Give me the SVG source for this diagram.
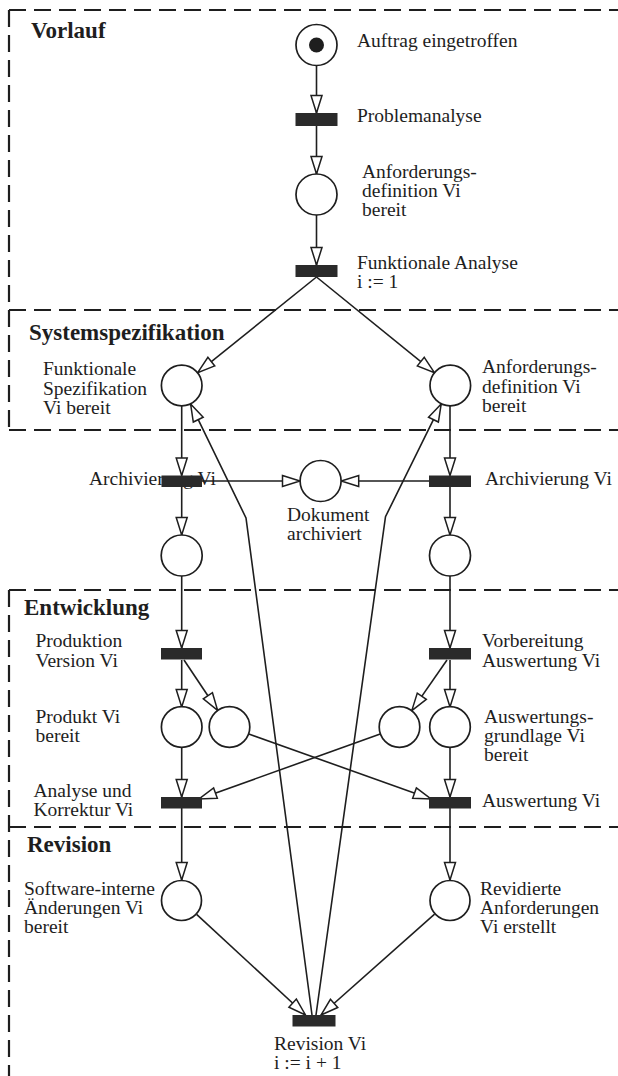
<svg xmlns="http://www.w3.org/2000/svg" width="618" height="1076" viewBox="0 0 618 1076">
<style>
text{font-family:"Liberation Serif","Times New Roman",serif;fill:#1e1e1e;font-size:19.5px}
.h{font-weight:bold;font-size:23px}
.pl{fill:#fff;stroke:#1e1e1e;stroke-width:1.7}
.tr{fill:#2a2a2a;stroke:none}
.c{fill:none;stroke:#1e1e1e;stroke-width:1.6}
.a{marker-end:url(#ah)}
.d{fill:none;stroke:#1e1e1e;stroke-width:2.2;stroke-dasharray:17 8}
</style>
<defs>
<marker id="ah" markerUnits="userSpaceOnUse" markerWidth="20" markerHeight="14" refX="18" refY="6" orient="auto" overflow="visible">
<path d="M0.5,0.5 L18,6 L0.5,11.5 z" fill="#fff" stroke="#1e1e1e" stroke-width="1.5"/>
</marker>
</defs>
<rect width="618" height="1076" fill="#fff"/>
<g id="sections">
<path class="d" d="M9,10 H618 M9,310 H618 M9,430 H618 M9,590 H618 M9,827 H618"/>
<path class="d" d="M9,10 V430 M9,590 V1076"/>
<text class="h" x="31" y="38">Vorlauf</text>
<text class="h" x="29" y="340">Systemspezifikation</text>
<text class="h" x="24" y="615">Entwicklung</text>
<text class="h" x="27" y="852">Revision</text>
</g>
<g id="connectors">
<path class="c a" d="M316.5,65.5 V113"/>
<path class="c a" d="M316.5,126 V174"/>
<path class="c a" d="M316.5,215 V265"/>
<path class="c a" d="M316.5,277 L197.7,372.6"/>
<path class="c a" d="M316.5,277 L434.4,372.6"/>
<path class="c a" d="M181.7,405.5 V475.5"/>
<path class="c a" d="M450,405.5 V475.5"/>
<path class="c a" d="M201.8,481 H300"/>
<path class="c a" d="M429,481 H341.2"/>
<path class="c a" d="M181.7,487 V535"/>
<path class="c a" d="M450,487 V535"/>
<path class="c a" d="M181.7,576 V648"/>
<path class="c a" d="M450,576 V648"/>
<path class="c a" d="M181.7,660 V707"/>
<path class="c a" d="M184,660 L217.6,710.3"/>
<path class="c a" d="M447,660 L411.8,710.6"/>
<path class="c a" d="M450,660 V707"/>
<path class="c a" d="M181.7,747.5 V797"/>
<path class="c a" d="M450,747.5 V797"/>
<path class="c a" d="M380.2,734 L199,799"/>
<path class="c a" d="M248.8,734 L431,799"/>
<path class="c a" d="M181.7,808 V880"/>
<path class="c a" d="M450,808 V880"/>
<path class="c a" d="M196.6,914.4 L305.5,1015"/>
<path class="c a" d="M434.6,914.1 L321,1015"/>
<path class="c a" d="M312,1015 L246,518 L190.6,403.9"/>
<path class="c a" d="M316,1015 L385.5,516.7 L441.2,403.9"/>
</g>
<g id="p_auftrag">
<circle class="pl" cx="316.5" cy="45" r="20.5"/>
<circle cx="316.5" cy="45" r="7.5" fill="#1e1e1e"/>
<text x="357" y="47">Auftrag eingetroffen</text>
</g>
<g id="t_problemanalyse">
<rect class="tr" x="295.5" y="113" width="42" height="13"/>
<text x="357" y="122">Problemanalyse</text>
</g>
<g id="p_anf_def">
<circle class="pl" cx="316.5" cy="194.5" r="20.5"/>
<text x="362" y="178">Anforderungs-</text>
<text x="362" y="197">definition Vi</text>
<text x="362" y="216">bereit</text>
</g>
<g id="t_funkt_analyse">
<rect class="tr" x="295.5" y="265" width="42" height="12"/>
<text x="357" y="269">Funktionale Analyse</text>
<text x="357" y="288">i := 1</text>
</g>
<g id="p_funkt_spez">
<circle class="pl" cx="181.7" cy="385.5" r="20.3"/>
<text x="43" y="375">Funktionale</text>
<text x="43" y="395">Spezifikation</text>
<text x="43" y="414">Vi bereit</text>
</g>
<g id="p_anf_def2">
<circle class="pl" cx="450.3" cy="385.5" r="20.3"/>
<text x="482" y="373">Anforderungs-</text>
<text x="482" y="393">definition Vi</text>
<text x="482" y="412">bereit</text>
</g>
<g id="t_arch_left">
<text x="89" y="485">Archivierung Vi</text>
<rect class="tr" x="161.5" y="475.5" width="40.5" height="11.5"/>
</g>
<g id="t_arch_right">
<rect class="tr" x="429" y="475.5" width="42" height="11.5"/>
<text x="485" y="485">Archivierung Vi</text>
</g>
<g id="p_dokument">
<circle class="pl" cx="320.6" cy="481" r="20.5"/>
<text x="287" y="521">Dokument</text>
<text x="287" y="540">archiviert</text>
</g>
<g id="p_left_mid">
<circle class="pl" cx="181.7" cy="555.5" r="20.5"/>
</g>
<g id="p_right_mid">
<circle class="pl" cx="450" cy="555.5" r="20.5"/>
</g>
<g id="t_produktion">
<rect class="tr" x="161" y="648" width="41" height="11.5"/>
<text x="35.5" y="647">Produktion</text>
<text x="35.5" y="667">Version Vi</text>
</g>
<g id="t_vorbereitung">
<rect class="tr" x="429" y="648" width="42" height="11.5"/>
<text x="482" y="647">Vorbereitung</text>
<text x="482" y="667">Auswertung Vi</text>
</g>
<g id="p_produkt">
<circle class="pl" cx="181.7" cy="727" r="20.3"/>
<text x="35.5" y="723">Produkt Vi</text>
<text x="35.5" y="742">bereit</text>
</g>
<g id="p_produkt2">
<circle class="pl" cx="229.5" cy="727" r="20.3"/>
</g>
<g id="p_auswert2">
<circle class="pl" cx="399.5" cy="727" r="20.3"/>
</g>
<g id="p_auswertungsgrundlage">
<circle class="pl" cx="450" cy="727" r="20.3"/>
<text x="484" y="723">Auswertungs-</text>
<text x="484" y="742">grundlage Vi</text>
<text x="484" y="761">bereit</text>
</g>
<g id="t_analyse">
<rect class="tr" x="161" y="797" width="41" height="11.5"/>
<text x="33.5" y="797">Analyse und</text>
<text x="33.5" y="816">Korrektur Vi</text>
</g>
<g id="t_auswertung">
<rect class="tr" x="429" y="797" width="42" height="11.5"/>
<text x="482" y="807">Auswertung Vi</text>
</g>
<g id="p_software">
<circle class="pl" cx="181.5" cy="900.5" r="20"/>
<text x="24" y="895">Software-interne</text>
<text x="24" y="914">Änderungen Vi</text>
<text x="24" y="933">bereit</text>
</g>
<g id="p_revidiert">
<circle class="pl" cx="450" cy="900.5" r="20"/>
<text x="480" y="895">Revidierte</text>
<text x="480" y="914">Anforderungen</text>
<text x="480" y="933">Vi erstellt</text>
</g>
<g id="t_revision">
<rect class="tr" x="292.5" y="1015" width="43" height="11.5"/>
<text x="274" y="1050">Revision Vi</text>
<text x="274" y="1069">i := i + 1</text>
</g>
</svg>
